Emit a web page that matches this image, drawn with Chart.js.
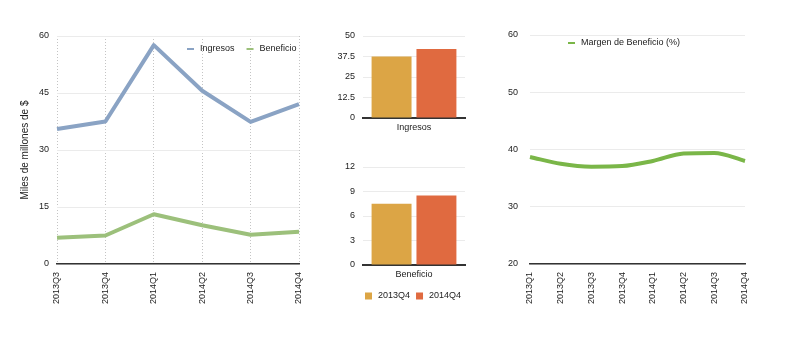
<!DOCTYPE html>
<html>
<head>
<meta charset="utf-8">
<script src="https://cdn.jsdelivr.net/npm/chart.js@4"></script>
<style>
  html, body { margin: 0; padding: 0; background: #fff; }
  #wrap { position: relative; width: 800px; height: 338px; overflow: hidden; }
  canvas { position: absolute; }
</style>
</head>
<body>
<div id="wrap">
  <canvas id="cLeft" width="310" height="338" style="left:0;top:0;width:310px;height:338px"></canvas>
  <canvas id="cTop" width="170" height="145" style="left:310px;top:0;width:170px;height:145px"></canvas>
  <canvas id="cBot" width="170" height="193" style="left:310px;top:145px;width:170px;height:193px"></canvas>
  <canvas id="cRight" width="320" height="338" style="left:480px;top:0;width:320px;height:338px"></canvas>
</div>
<script>
// Quarterly figures (miles de millones de $)
const quarters = ['2013Q3', '2013Q4', '2014Q1', '2014Q2', '2014Q3', '2014Q4'];
const ingresos = [35.5, 37.5, 57.6, 45.6, 37.4, 42.1];
const beneficio = [6.9, 7.5, 13.1, 10.2, 7.7, 8.5];

// Year-over-year comparison
const compareQuarters = ['2013Q4', '2014Q4'];
const ingresosCompare = [37.5, 42.1];
const beneficioCompare = [7.5, 8.5];

// Profit margin (%)
const marginQuarters = ['2013Q1', '2013Q2', '2013Q3', '2013Q4', '2014Q1', '2014Q2', '2014Q3', '2014Q4'];
const margen = [38.7, 37.5, 37.0, 37.1, 38.0, 39.3, 39.4, 38.0];

const FONT = 'Liberation Sans, Arial, Helvetica, sans-serif';
const TEXT = '#222';
const GRID = '#ebebeb';
const AXIS = '#333';

Chart.defaults.font.family = FONT;
Chart.defaults.font.size = 9;
Chart.defaults.color = TEXT;

const COL_ING = '#8aa3c4';
const COL_BEN = '#9cc07b';
const COL_MARGIN = '#7ab648';
const COL_2013 = '#dca545';
const COL_2014 = '#e06a40';

// Small legend drawn at a fixed spot on the canvas
const inlineLegend = {
  id: 'inlineLegend',
  afterDraw(chart, args, opts) {
    if (!opts || !opts.show) return;
    const ctx = chart.ctx;
    ctx.save();
    ctx.font = (opts.size || 9) + 'px ' + FONT;
    ctx.fillStyle = TEXT;
    ctx.textBaseline = 'middle';
    ctx.textAlign = 'left';
    let x = opts.x;
    const y = opts.y;
    chart.data.datasets.forEach(ds => {
      const col = opts.marker === 'box' ? ds.backgroundColor : ds.borderColor;
      if (opts.marker === 'box') {
        ctx.fillStyle = col;
        ctx.fillRect(x, y - 3.5, 7, 7);
      } else {
        ctx.strokeStyle = col;
        ctx.lineWidth = 2;
        ctx.beginPath();
        ctx.moveTo(x, y);
        ctx.lineTo(x + 7, y);
        ctx.stroke();
      }
      ctx.fillStyle = TEXT;
      x += opts.textOffset;
      ctx.fillText(ds.label, x, y);
      x += ctx.measureText(ds.label).width + opts.gap;
    });
    ctx.restore();
  }
};
Chart.register(inlineLegend);

const base = {
  responsive: false,
  animation: false,
  events: [],
  plugins: { legend: { display: false }, tooltip: { enabled: false } }
};

// Rotated quarter labels should not push the plot area inwards
function fixedXAxis(height) {
  return s => { s.height = height; s.paddingLeft = 0; s.paddingRight = 0; };
}

// Left: revenue and profit lines
new Chart(document.getElementById('cLeft'), {
  type: 'line',
  data: {
    labels: quarters,
    datasets: [
      { label: 'Ingresos', data: ingresos, borderColor: COL_ING, borderWidth: 4, pointRadius: 0, tension: 0, borderJoinStyle: 'round' },
      { label: 'Beneficio', data: beneficio, borderColor: COL_BEN, borderWidth: 4, pointRadius: 0, tension: 0, borderJoinStyle: 'round' }
    ]
  },
  options: {
    ...base,
    layout: { padding: { left: 12, top: 36, right: 11, bottom: 0 } },
    plugins: { ...base.plugins, inlineLegend: { show: true, marker: 'line', x: 187, y: 49, textOffset: 13, gap: 12 } },
    scales: {
      x: {
        offset: false,
        grid: { color: '#c4c4c4', lineWidth: 1, drawTicks: false },
        border: { color: AXIS, width: 1.5, dash: [1, 2] },
        ticks: { minRotation: 90, maxRotation: 90, padding: 8, autoSkip: false },
        afterFit: fixedXAxis(338 - 264)
      },
      y: {
        min: 0, max: 60,
        ticks: { stepSize: 15, padding: 8 },
        grid: { color: GRID, drawTicks: false },
        border: { display: false },
        title: { display: true, text: 'Miles de millones de $', font: { size: 10 }, padding: { top: 7, bottom: 0 } },
        afterFit: s => { s.width = 57 - 12; }
      }
    }
  }
});

// Middle: comparison bars for one metric
function barChart(id, category, values, yMax, step, top, bottom, canvasH, legend) {
  return new Chart(document.getElementById(id), {
    type: 'bar',
    data: {
      labels: [category],
      datasets: [
        { label: compareQuarters[0], data: [values[0]], backgroundColor: COL_2013 },
        { label: compareQuarters[1], data: [values[1]], backgroundColor: COL_2014 }
      ]
    },
    options: {
      ...base,
      layout: { padding: { left: 0, top: top, right: 15, bottom: 0 } },
      plugins: { ...base.plugins, inlineLegend: legend },
      datasets: { bar: { categoryPercentage: 0.88, barPercentage: 0.89 } },
      scales: {
        x: {
          grid: { display: false, drawTicks: false },
          border: { color: AXIS, width: 2 },
          ticks: { padding: 4 },
          afterFit: s => { s.height = canvasH - bottom; }
        },
        y: {
          min: 0, max: yMax,
          ticks: { stepSize: step, padding: 8 },
          grid: { color: GRID, drawTicks: false },
          border: { display: false },
          afterFit: s => { s.width = 53; }
        }
      }
    }
  });
}
barChart('cTop', 'Ingresos', ingresosCompare, 50, 12.5, 36, 118, 145, { show: false });
barChart('cBot', 'Beneficio', beneficioCompare, 12, 3, 22, 120, 193,
  { show: true, marker: 'box', x: 55, y: 151, textOffset: 13, gap: 6 });

// Right: profit margin trend
new Chart(document.getElementById('cRight'), {
  type: 'line',
  data: {
    labels: marginQuarters,
    datasets: [
      { label: 'Margen de Beneficio (%)', data: margen, borderColor: COL_MARGIN, borderWidth: 4, pointRadius: 0, cubicInterpolationMode: 'monotone' }
    ]
  },
  options: {
    ...base,
    layout: { padding: { left: 0, top: 35, right: 55, bottom: 0 } },
    plugins: { ...base.plugins, inlineLegend: { show: true, marker: 'line', x: 88, y: 43, textOffset: 13, gap: 10 } },
    scales: {
      x: {
        offset: false,
        grid: { display: false, drawTicks: false },
        border: { color: AXIS, width: 1.5 },
        ticks: { minRotation: 90, maxRotation: 90, padding: 8, autoSkip: false },
        afterFit: fixedXAxis(338 - 264)
      },
      y: {
        min: 20, max: 60,
        ticks: { stepSize: 10, padding: 12 },
        grid: { color: GRID, drawTicks: false },
        border: { display: false },
        afterFit: s => { s.width = 50; }
      }
    }
  }
});
</script>
</body>
</html>
